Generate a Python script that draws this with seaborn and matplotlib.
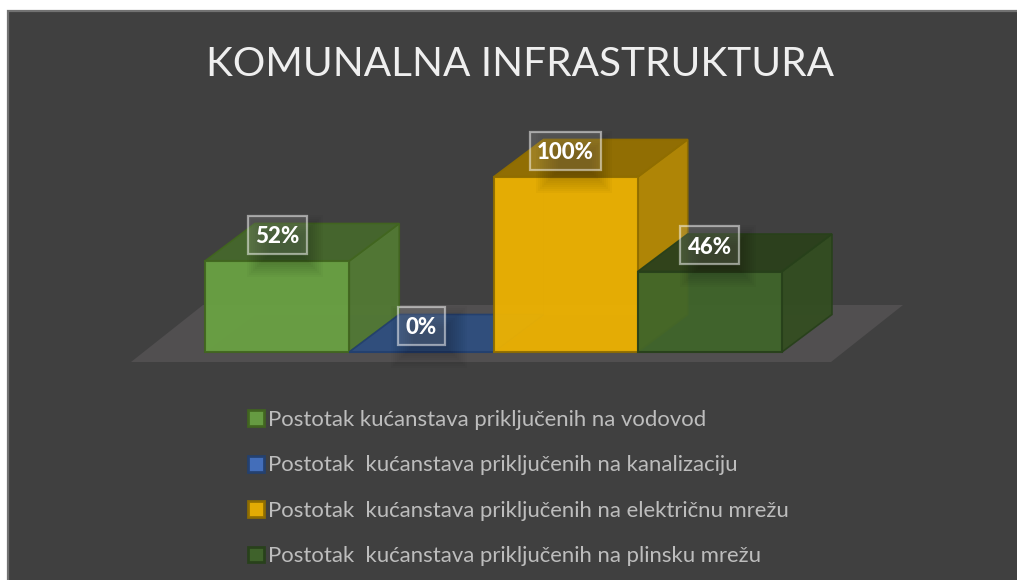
import matplotlib
matplotlib.use("Agg")
import matplotlib.pyplot as plt
import seaborn as sns
import pandas as pd
from matplotlib.patches import Polygon, Rectangle

title = "KOMUNALNA INFRASTRUKTURA"
categories = [
    "Postotak kućanstava priključenih na vodovod",
    "Postotak  kućanstava priključenih na kanalizaciju",
    "Postotak  kućanstava priključenih na električnu mrežu",
    "Postotak  kućanstava priključenih na plinsku mrežu",
]
values = [52, 0, 100, 46]
front_colors = ["#6AA343", "#4472C4", "#F0B400", "#3F652A"]
edge_colors = ["#41651F", "#23406F", "#8F6D00", "#27401A"]
top_colors = ["#46672C", "#2F4E7F", "#957000", "#2B401C"]
side_colors = ["#527A34", "#2F4E7F", "#B78A03", "#334D20"]

W, H = 1017, 580
BG = "#404040"
sns.set_theme(style="white", rc={"font.family": ["Lato", "DejaVu Sans"]})
plt.rcParams["font.family"] = ["Lato", "DejaVu Sans"]

fig = plt.figure(figsize=(W / 100, H / 100), dpi=100, facecolor="white")
fig.patches.append(Rectangle((7.5 / W, -0.01), 1.02, (H - 11.5) / H + 0.01,
                             transform=fig.transFigure, facecolor=BG,
                             edgecolor="#727272", linewidth=1.6, zorder=-10))
ax = fig.add_axes([205 / W, (H - 352) / H, 577 / W, 175 / H])
ax.patch.set_visible(False)

df = pd.DataFrame({"kategorija": categories, "vrijednost": values})
sns.barplot(data=df, x="kategorija", y="vrijednost", hue="kategorija",
            order=categories, hue_order=categories, palette=front_colors,
            width=1.0, gap=0, dodge=False, saturation=1, ax=ax, zorder=5)
ax.set_xlim(-0.5, 3.5)
ax.set_ylim(0, 100)
ax.axis("off")

# depth of the pseudo-3D projection, in data units
DX = 50 / 144.25
DY = 37.5 / 1.75
PXX = 1 / 144.25   # one pixel in x data units
PXY = 1 / 1.75     # one pixel in y data units

# floor
ax.add_patch(Polygon([(-0.5 - 74 * PXX, -10 * PXY), (3.5 + 49 * PXX, -10 * PXY),
                      (3.5 + 121 * PXX, 47 * PXY), (-0.5 - 2 * PXX, 47 * PXY)],
                     closed=True, facecolor="#514F50", edgecolor="none",
                     clip_on=False, zorder=0))

bars = [c[0] for c in ax.containers]
for i, bar in enumerate(bars):
    x0, w, h = bar.get_x(), bar.get_width(), bar.get_height()
    x1 = x0 + w
    z = 2 + i * 2
    bar.set_zorder(z + 0.5)
    bar.set_alpha(0.93)
    bar.set_edgecolor(edge_colors[i])
    bar.set_linewidth(1.5)
    bar.set_clip_on(False)
    top = [(x0, h), (x1, h), (x1 + DX, h + DY), (x0 + DX, h + DY)]
    side = [(x1, 0), (x1 + DX, DY), (x1 + DX, h + DY), (x1, h)]
    back = [(x0 + DX, DY), (x1 + DX, DY), (x1 + DX, h + DY), (x0 + DX, h + DY)]
    left = [(x0, 0), (x0 + DX, DY), (x0 + DX, h + DY), (x0, h)]
    for pts, col, a in ((back, front_colors[i], 0.12), (left, front_colors[i], 0.12),
                        (side, side_colors[i], 0.93), (top, top_colors[i], 0.95)):
        if h == 0 and pts is not top:
            continue
        ax.add_patch(Polygon(pts, closed=True, facecolor=col,
                             edgecolor=edge_colors[i], linewidth=1.2 if a > 0.5 else 0,
                             alpha=a, clip_on=False, zorder=z))

# value labels with soft shadow and translucent box
for i, (bar, v) in enumerate(zip(bars, values)):
    cx = bar.get_x() + bar.get_width() / 2
    cy = v + 26.5 * PXY
    for grow in range(0, 24, 2):
        ax.add_patch(Rectangle((cx + (-30 + grow) * PXX, cy + (-42 + grow) * PXY),
                               (76 - 2 * grow) * PXX, (62 - 2 * grow) * PXY,
                               facecolor="black", edgecolor="none", alpha=0.022,
                               clip_on=False, zorder=11))
    bw = 59 if v != 100 else 71
    if v == 0:
        bw = 47
    ax.add_patch(Rectangle((cx - bw / 2 * PXX, cy - 19 * PXY), bw * PXX, 38 * PXY,
                           facecolor=(1, 1, 1, 0.12), edgecolor=(1, 1, 1, 0.5),
                           linewidth=1.6, clip_on=False, zorder=12))
    ax.annotate(f"{v}%", xy=(cx, cy), ha="center", va="center_baseline",
                color="white", fontsize=16, fontweight="black",
                annotation_clip=False, zorder=13)

fig.text(519.5 / W, 1 - 76 / H, title, ha="center", va="baseline",
         color="#EFEFEF", fontsize=29.2, fontweight="regular")

# legend
leg = fig.legend(bars, categories, loc="upper left",
                 bbox_to_anchor=(248 / W, 1 - 410 / H), ncol=1, frameon=False,
                 fontsize=15.9, labelcolor="#BDBDBD", borderpad=0, borderaxespad=0,
                 handlelength=0.72, handleheight=0.72, handletextpad=0.2,
                 labelspacing=1.15)
for patch, ec in zip(leg.get_patches(), edge_colors):
    patch.set_edgecolor(ec)
    patch.set_linewidth(2)

fig.savefig("out.png", dpi=100, facecolor="white")
